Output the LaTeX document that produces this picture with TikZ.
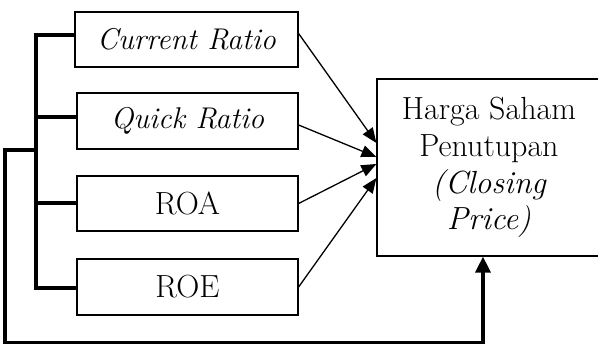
\documentclass[tikz,border=0pt]{standalone}
\usepackage{fontspec}
\usetikzlibrary{arrows.meta}
\begin{document}
\begin{tikzpicture}[x=1pt,y=-1pt,
  varbox/.style={draw, line width=1.2pt, inner sep=0pt, minimum height=55pt,
                 minimum width=221pt, font=\fontsize{32}{36.7}\selectfont},
  italbox/.style={varbox, font=\fontsize{30}{34}\selectfont\itshape},
  effect/.style={line width=1.3pt, -{Triangle[length=15pt,width=12pt]}},
  bracket/.style={line width=3.3pt},
]
\useasboundingbox (0,0) rectangle (598,344);
\clip (0,0) rectangle (598,344);

% independent variables
\node[italbox, minimum width=223pt] (cr)  at (186.5,39.5) {Current Ratio};
\node[italbox, minimum height=56pt] (qr)  at (187.5,121)  {Quick Ratio};
\node[varbox]                       (roa) at (187.5,203.5) {ROA};
\node[varbox, minimum height=56pt]  (roe) at (187.5,287)  {ROE};

% dependent variable
\node[varbox, minimum width=224pt, minimum height=177pt, align=center] (hp) at (489,167.5)
  {Harga Saham\\Penutupan\\\itshape(Closing\\\itshape Price)};

% partial effects
\draw[effect] ([yshift=6pt]cr.east) -- ([yshift=24.5pt]hp.west);
\draw[effect] ([yshift=-4pt]qr.east) -- ([yshift=10.5pt]hp.west);
\draw[effect] (roa.east) -- ([yshift=3.5pt]hp.west);
\draw[effect] (roe.east) -- ([yshift=-10.5pt]hp.west);

% simultaneous effect bracket
\coordinate (top) at (36,35);
\coordinate (bot) at (36,288);
\coordinate (join) at (36,150);
\coordinate (qrj) at (36,117);
\coordinate (roaj) at (36,203);
\draw[bracket] ([yshift=4.5pt]cr.west) -- (top) -- (bot) -- (bot -| roe.west);
\draw[bracket] (qrj) -- (qrj -| qr.west);
\draw[bracket] (roaj) -- (roaj -| roa.west);
\coordinate (corner) at (5,342.5);
\coordinate (rise) at (483,342.5);
\draw[bracket, -{Triangle[length=16pt,width=15pt]}]
  ([xshift=1.65pt]join) -- (join -| corner) -- (corner) -- (rise)
  -- ([xshift=-6pt]hp.south);
\end{tikzpicture}
\end{document}
